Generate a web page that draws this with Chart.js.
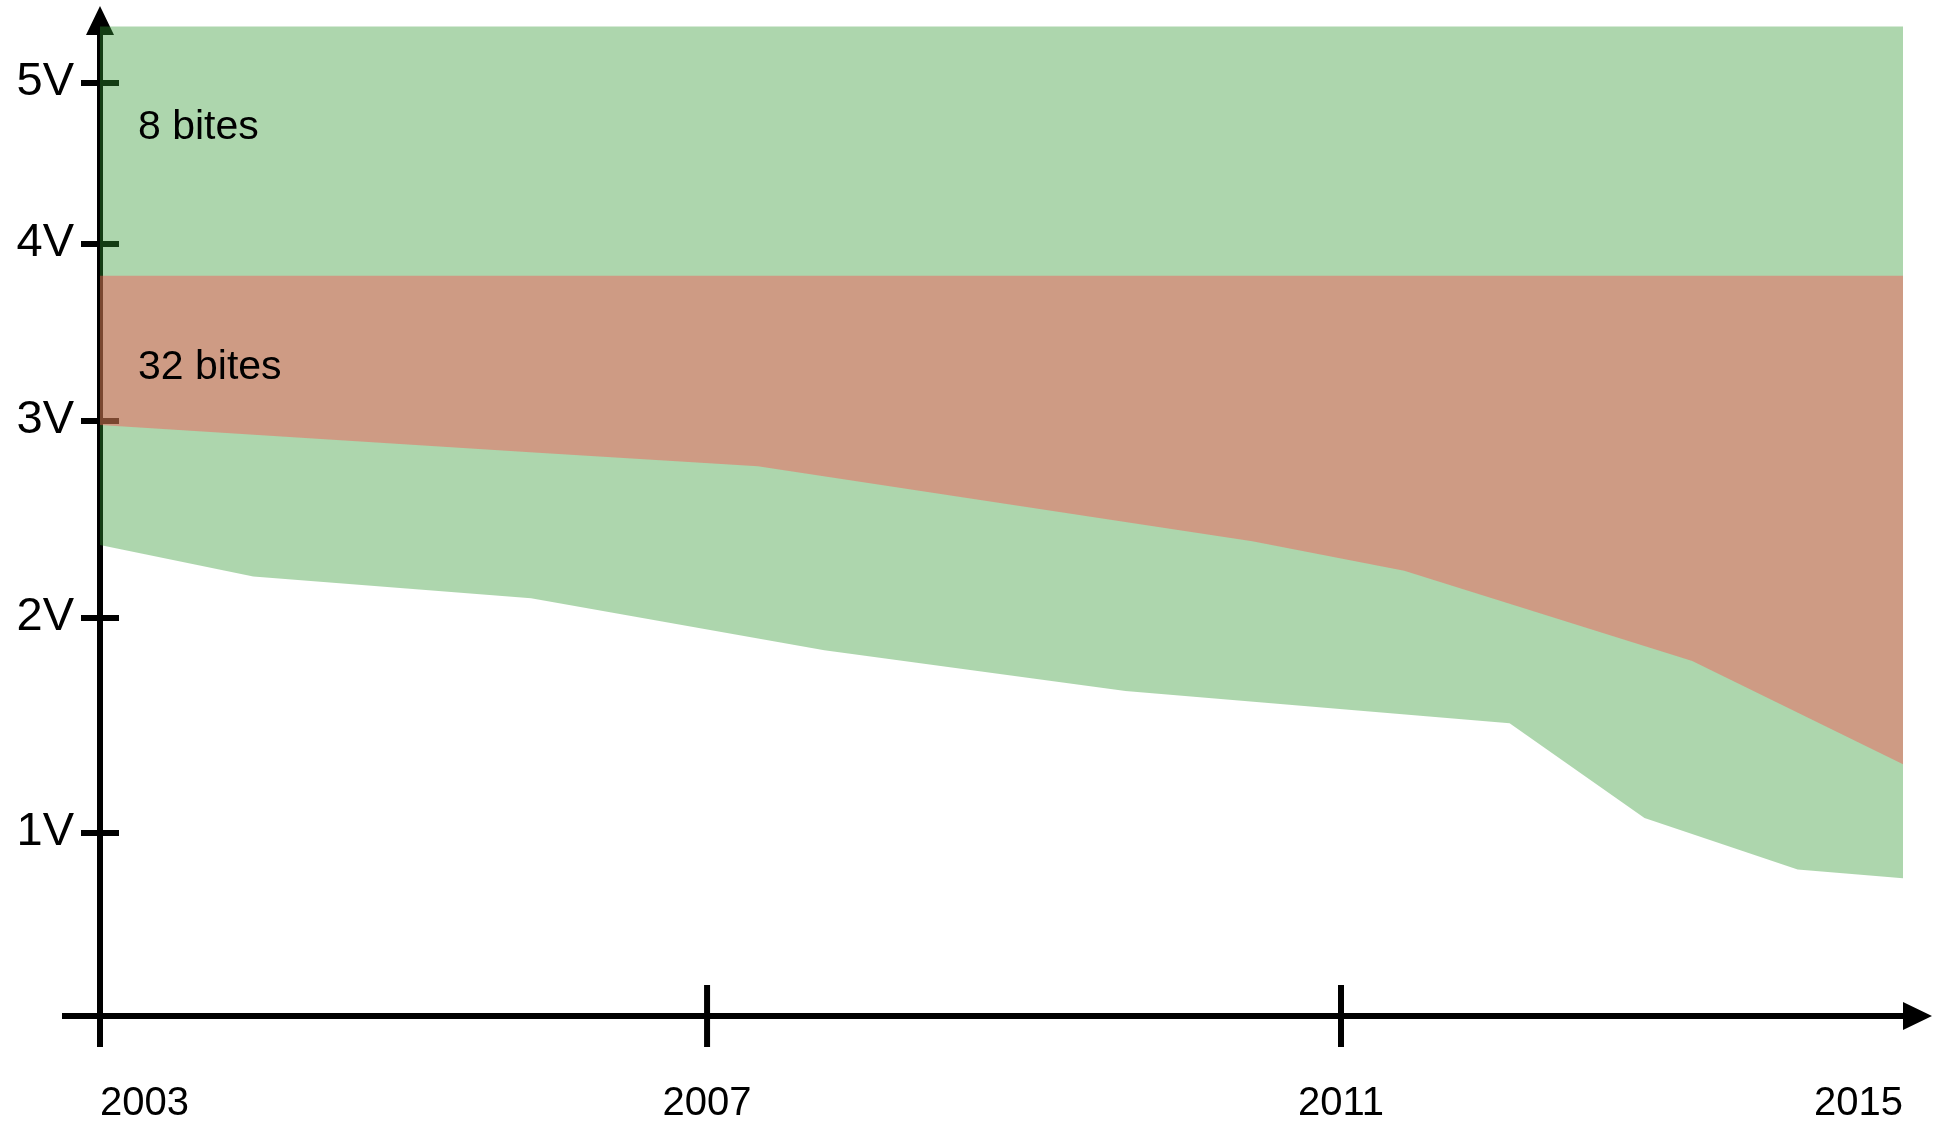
<!DOCTYPE html>
<html>
<head>
<meta charset="utf-8">
<script src="https://cdn.jsdelivr.net/npm/chart.js@4.4.1/dist/chart.umd.min.js"></script>
<style>
  html, body { margin: 0; padding: 0; background: #fff; }
  #wrap { width: 1946px; height: 1124px; position: relative; }
</style>
</head>
<body>
<div id="wrap"><canvas id="voltChart"></canvas></div>
<script>
// tick labels
const xTickYears = [2003, 2007, 2011, 2015];
const yTickVolts = [1, 2, 3, 4, 5];

// 8 bit parts: lower edge of the band (volts), band goes up to top8
const years8 = [2003, 2004.01, 2005.84, 2007.74, 2009.64, 2012.2, 2013.16, 2014.25, 2015];
const low8 = [2.37, 2.21, 2.10, 1.85, 1.66, 1.51, 1.07, 0.83, 0.79];
const top8 = 5.35;

// 32 bit parts
const years32 = [2003, 2005.86, 2007.32, 2010.44, 2011.45, 2013.5, 2015];
const low32 = [2.98, 2.84, 2.77, 2.39, 2.24, 1.80, 1.32];
const top32 = 3.82;

// the drawing's axes are not evenly spaced, so each axis gets its own
// mapping: [value, fraction along the axis]
const tickSpots = {
  x: [[2003, 0], [2007, 0.3367], [2011, 0.6883], [2015, 1]],
  y: [[1, 0.1812], [2, 0.3941], [3, 0.5891], [4, 0.7644], [5, 0.9238]]
};

function interp(pts, v, from, to) {
  let i = 1;
  while (i < pts.length - 1 && v > pts[i][from]) i++;
  const a = pts[i - 1], b = pts[i];
  return a[to] + (v - a[from]) * (b[to] - a[to]) / (b[from] - a[from]);
}

class BentScale extends Chart.LinearScale {
  getPixelForValue(value) {
    if (value === null || value === undefined) return NaN;
    return this.getPixelForDecimal(interp(tickSpots[this.axis], value, 0, 1));
  }
  getValueForPixel(pixel) {
    return interp(tickSpots[this.axis], this.getDecimalForPixel(pixel), 1, 0);
  }
}
BentScale.id = 'bent';
BentScale.defaults = Chart.LinearScale.defaults;
Chart.register(BentScale);

const FONT = '"Liberation Sans", Arial, sans-serif';

// axes with arrows, drawn under the bands (the bands are see-through)
const handAxes = {
  id: 'handAxes',
  beforeDatasetsDraw(chart) {
    const { ctx, scales: { x, y } } = chart;
    const x0 = x.getPixelForValue(xTickYears[0]);
    const y0 = y.bottom;
    ctx.save();
    ctx.strokeStyle = '#000';
    ctx.fillStyle = '#000';
    ctx.lineWidth = 6;
    ctx.beginPath();
    ctx.moveTo(x0, y0 + 31);
    ctx.lineTo(x0, y.top + 28);
    ctx.moveTo(x0 - 38, y0);
    ctx.lineTo(x.right, y0);
    yTickVolts.forEach(v => {
      const p = y.getPixelForValue(v);
      ctx.moveTo(x0 - 19, p);
      ctx.lineTo(x0 + 19, p);
    });
    xTickYears.slice(1, -1).forEach(yr => {
      const p = x.getPixelForValue(yr);
      ctx.moveTo(p, y0 - 31);
      ctx.lineTo(p, y0 + 31);
    });
    ctx.stroke();

    ctx.beginPath();
    ctx.moveTo(x0, y.top);
    ctx.lineTo(x0 - 14, y.top + 29);
    ctx.lineTo(x0 + 14, y.top + 29);
    ctx.closePath();
    ctx.moveTo(x.right + 29, y0);
    ctx.lineTo(x.right, y0 - 14);
    ctx.lineTo(x.right, y0 + 14);
    ctx.closePath();
    ctx.fill();
    ctx.restore();
  },
  afterDatasetsDraw(chart) {
    const { ctx, scales: { x, y } } = chart;
    const x0 = x.getPixelForValue(xTickYears[0]);
    ctx.save();
    ctx.font = '41px ' + FONT;
    ctx.fillStyle = '#000';
    ctx.textAlign = 'left';
    ctx.textBaseline = 'alphabetic';
    ctx.fillText('8 bites', x0 + 38, y.getPixelForValue(top8) + 112);
    ctx.fillText('32 bites', x0 + 38, y.getPixelForValue(top32) + 103);
    ctx.restore();
  }
};

const toPoints = (xs, ys) => xs.map((v, i) => ({ x: v, y: ys[i] }));

const ctx = document.getElementById('voltChart').getContext('2d');
new Chart(ctx, {
  type: 'line',
  data: {
    datasets: [
      {
        label: '32 bites',
        data: toPoints(years32, low32),
        fill: { value: top32 },
        backgroundColor: 'rgba(246, 84, 82, 0.45)',
        borderColor: 'rgba(0, 0, 0, 0)',
        borderWidth: 0,
        pointRadius: 0,
        tension: 0,
        order: 1
      },
      {
        label: '8 bites',
        data: toPoints(years8, low8),
        fill: { value: top8 },
        backgroundColor: 'rgba(51, 153, 51, 0.4)',
        borderColor: 'rgba(0, 0, 0, 0)',
        borderWidth: 0,
        pointRadius: 0,
        tension: 0,
        order: 2
      }
    ]
  },
  options: {
    responsive: true,
    maintainAspectRatio: false,
    animation: false,
    layout: { padding: { top: 6, right: 43, left: 0, bottom: 0 } },
    plugins: {
      legend: { display: false },
      tooltip: { enabled: false }
    },
    scales: {
      x: {
        type: 'bent',
        min: 2003,
        max: 2015,
        grid: { display: false, drawTicks: false },
        border: { display: false },
        afterBuildTicks: s => { s.ticks = xTickYears.map(v => ({ value: v })); },
        ticks: {
          align: 'inner',
          padding: 64,
          maxRotation: 0,
          autoSkip: false,
          color: '#000',
          font: { family: FONT, size: 40 },
          callback: v => String(v)
        },
        afterFit: s => { s.height = 108; s.paddingLeft = 0; s.paddingRight = 0; }
      },
      y: {
        type: 'bent',
        min: 0.149,
        max: 5.478,
        grid: { display: false, drawTicks: false },
        border: { display: false },
        afterBuildTicks: s => { s.ticks = yTickVolts.map(v => ({ value: v })); },
        ticks: {
          padding: 26,
          labelOffset: -1,
          color: '#000',
          font: { family: FONT, size: 47 },
          callback: v => v + 'V'
        },
        afterFit: s => { s.width = 100; s.paddingTop = 0; s.paddingBottom = 0; }
      }
    }
  },
  plugins: [handAxes]
});
</script>
</body>
</html>
